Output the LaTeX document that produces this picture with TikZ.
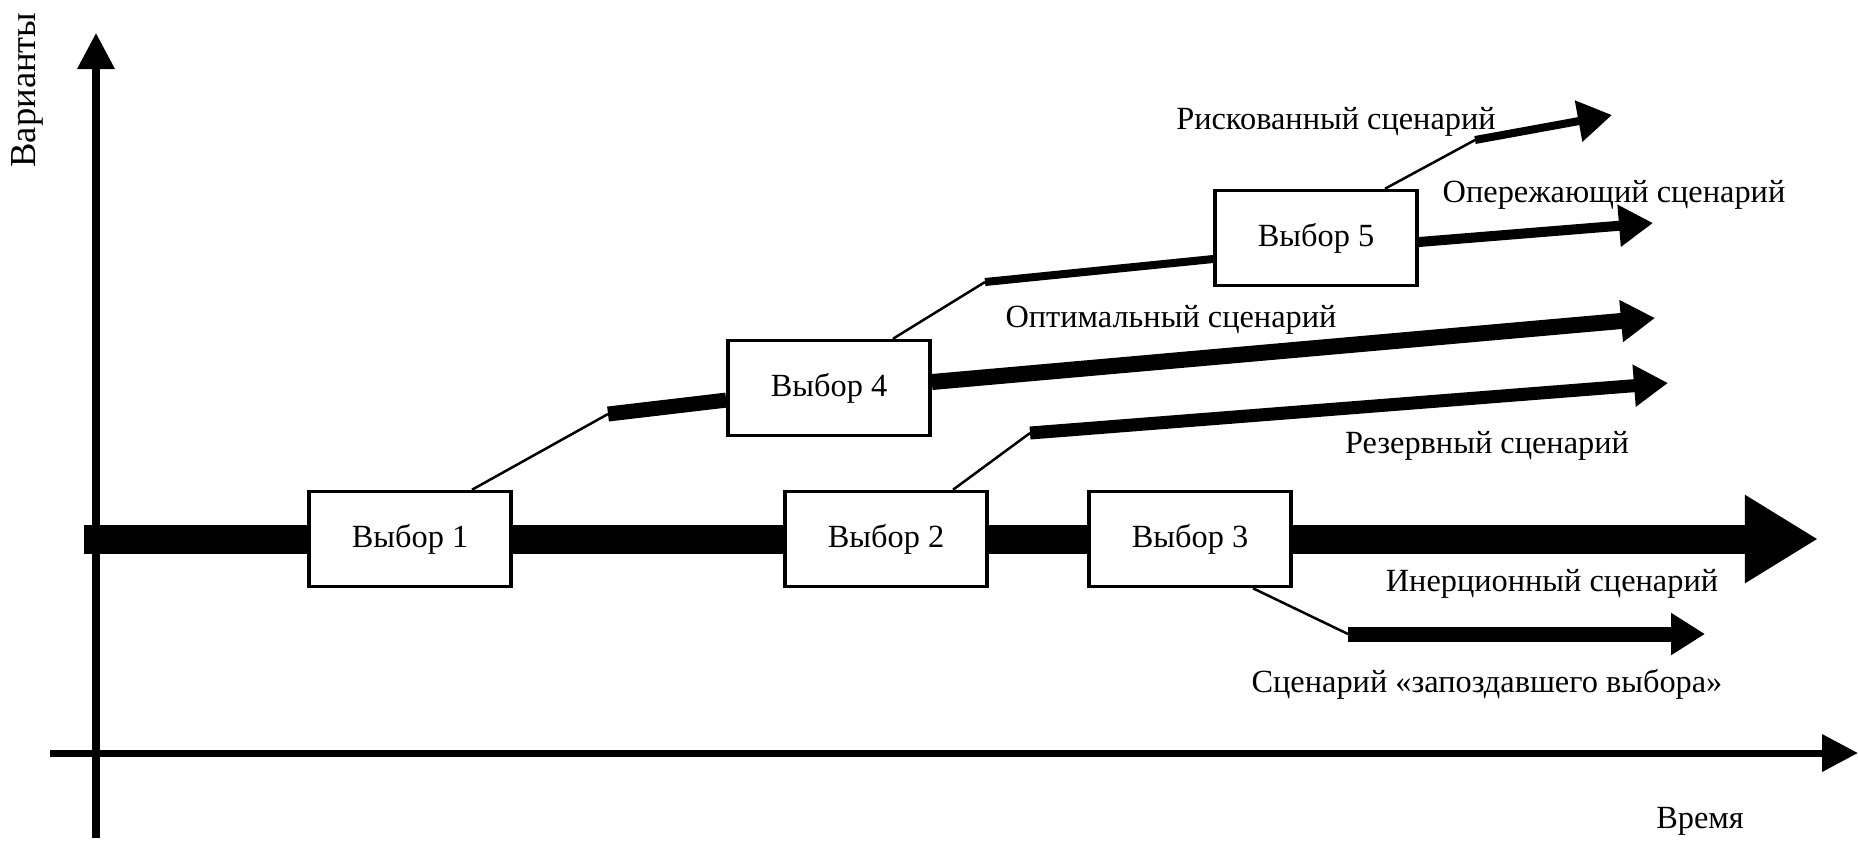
\documentclass[tikz,border=0pt]{standalone}
\usepackage{fontspec}
\setmainfont{Liberation Serif}
\usetikzlibrary{arrows.meta,calc}
\tikzstyle{box} = [draw, fill=white, line width=0.035cm, minimum width=2.02cm, minimum height=0.95cm, inner sep=0pt]
\tikzstyle{link} = [line width=0.025cm]
\tikzstyle{route} = [-{Triangle[length=0.34cm,width=0.40cm]}]
\tikzstyle{axis} = [line width=0.07cm, -{Triangle[length=0.36cm,width=0.36cm]}]
\begin{document}
\begin{tikzpicture}[x=0.01cm, y=-0.01cm, font=\fontsize{9.2}{11}\selectfont]
\tikzset{inert/.style={line width=0.29cm}}
\useasboundingbox (0,0) rectangle (1858,841);
\draw[axis] (96,838) -- (96,33);
\draw[axis] (50,753) -- (1858,753);
\node[rotate=90, font=\fontsize{10.4}{12}\selectfont] (ylab) at (27,90) {Варианты};
\node (xlab) at (1700,821) {Время};

\foreach \n/\x/\y in {1/410/539,2/886/539,3/1190/539,4/829/388,5/1316/238}
  \node[box] (v\n) at (\x,\y) {Выбор \n};

\coordinate (s0) at (84,539);
\coordinate (t0) at (1818,539);
\coordinate (k1) at (608,414);
\coordinate (k2) at (985,282);
\coordinate (k3) at (1030,433);
\coordinate (k4) at (1348,634);
\coordinate (k5) at (1475,140);
\coordinate (t1) at (1612,115);
\coordinate (t2) at (1653,223);
\coordinate (t3) at (1655,318);
\coordinate (t4) at (1668,383);
\coordinate (t5) at (1705,634);

% inertial scenario
\draw[inert] (s0) -- (v1);
\draw[inert] (v1) -- (v2);
\draw[inert] (v2) -- (v3);
\draw[inert, -{Triangle[length=0.73cm,width=0.83cm]}] (v3) -- (t0);

% branches
\draw[link] ($(v1.north)+(62,0)$) -- (k1);
\draw[line width=0.15cm] (k1) -- (v4);
\draw[line width=0.16cm, route] ($(v4.east)+(0,-6)$) -- (t3);
\draw[link] ($(v4.north)+(64,0)$) -- (k2);
\draw[line width=0.08cm] (k2) -- ($(v5.west)+(0,21)$);
\draw[line width=0.10cm, route] ($(v5.east)+(0,4)$) -- (t2);
\draw[link] ($(v5.north)+(69,0)$) -- (k5);
\draw[line width=0.08cm, route] (k5) -- (t1);
\draw[link] ($(v2.north)+(67,0)$) -- (k3);
\draw[line width=0.13cm, route] (k3) -- (t4);
\draw[link] ($(v3.south)+(63,0)$) -- (k4);
\draw[line width=0.15cm, route] (k4) -- (t5);

\node (risk) at (1336,122) {Рискованный сценарий};
\node (adv) at (1614,195) {Опережающий сценарий};
\node (opt) at (1171,320) {Оптимальный сценарий};
\node (res) at (1487,446) {Резервный сценарий};
\node (inrt) at (1552,584) {Инерционный сценарий};
\node (late) at (1487,684) {Сценарий «запоздавшего выбора»};
\end{tikzpicture}
\end{document}
